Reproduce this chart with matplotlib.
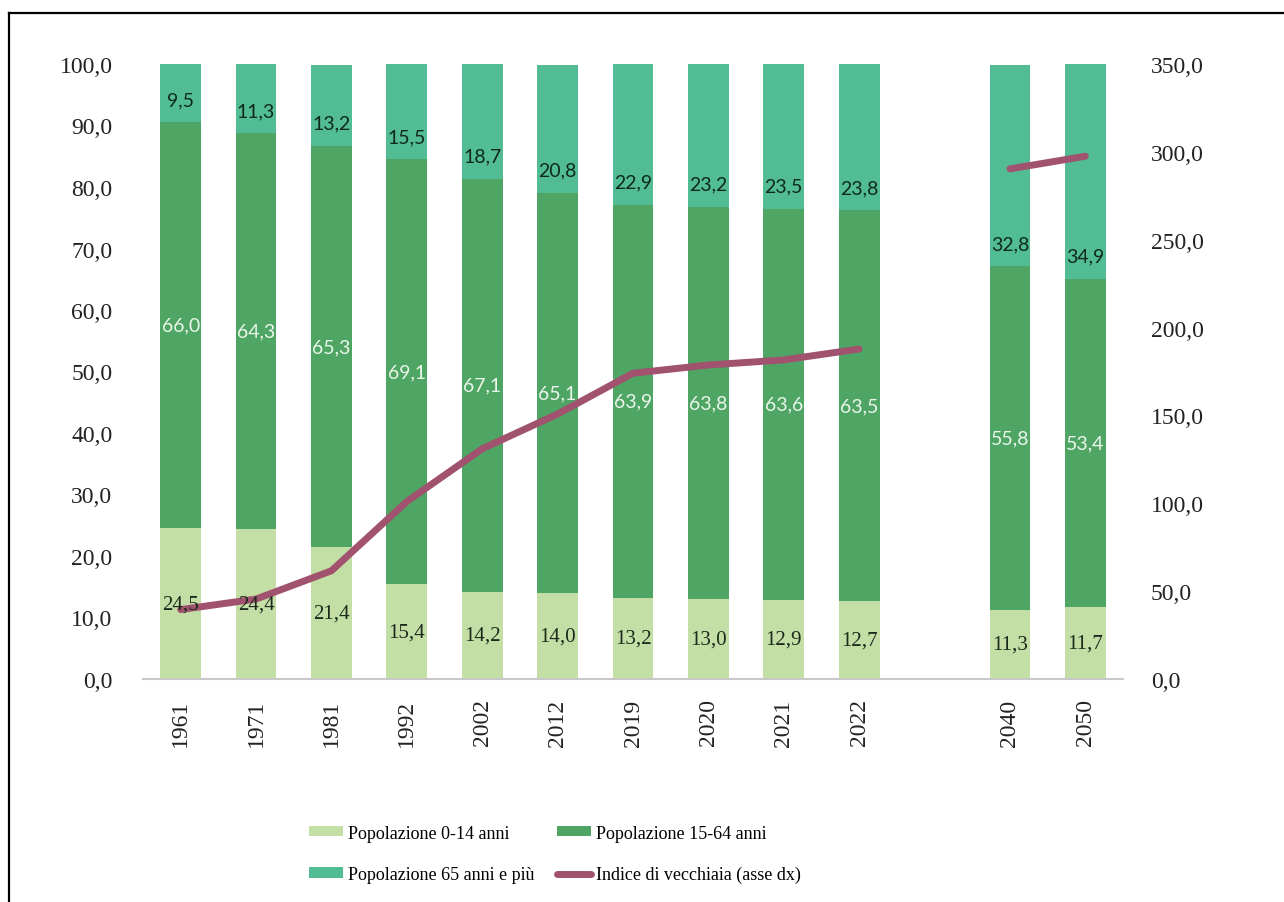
import numpy as np
import matplotlib
matplotlib.use("Agg")
import matplotlib.pyplot as plt
from matplotlib.lines import Line2D

# ---- data ----
categories = ["1961", "1971", "1981", "1992", "2002", "2012", "2019", "2020", "2021", "2022", "", "2040", "2050"]
pop_0_14 = [24.5, 24.4, 21.4, 15.4, 14.2, 14.0, 13.2, 13.0, 12.9, 12.7, np.nan, 11.3, 11.7]
pop_15_64 = [66.0, 64.3, 65.3, 69.1, 67.1, 65.1, 63.9, 63.8, 63.6, 63.5, np.nan, 55.8, 53.4]
pop_65 = [9.5, 11.3, 13.2, 15.5, 18.7, 20.8, 22.9, 23.2, 23.5, 23.8, np.nan, 32.8, 34.9]
indice_vecchiaia = [39.5, 45.5, 61.6, 101.0, 131.0, 150.8, 174.0, 178.7, 181.6, 187.8, np.nan, 290.3, 297.5]
left_ticks = [0, 10, 20, 30, 40, 50, 60, 70, 80, 90, 100]
right_ticks = [0, 50, 100, 150, 200, 250, 300, 350]

c_young = "#C3DFA6"
c_work = "#4FA564"
c_old = "#52BD95"
c_line = "#A0526F"

SERIF = "Liberation Serif"
SANS = "Lato"

def fmt(v):
    return f"{v:.1f}".replace(".", ",")

fig = plt.figure(figsize=(12.84, 9.03), dpi=100)
ax = fig.add_axes([143/1284, 1-680/903, (1123-143)/1284, (680-65)/903])
ax2 = ax.twinx()

x = np.arange(len(categories))
a = np.array(pop_0_14, dtype=float)
b = np.array(pop_15_64, dtype=float)
c = np.array(pop_65, dtype=float)
w = 0.54

h_young = ax.bar(x, a, w, color=c_young, label="Popolazione 0-14 anni", zorder=2)
h_work = ax.bar(x, b, w, bottom=a, color=c_work, label="Popolazione 15-64 anni", zorder=2)
h_old = ax.bar(x, c, w, bottom=a + b, color=c_old, label="Popolazione 65 anni e più", zorder=2)

ax.set_xlim(-0.5, len(categories) - 0.5)
ax.set_ylim(0, 100)
ax2.set_ylim(0, 350)

# labels
for i in range(len(categories)):
    if np.isnan(a[i]):
        continue
    ax.text(x[i], a[i] / 2, fmt(a[i]), ha="center", va="center", fontsize=15,
            family=SERIF, color="#1b2a1b", zorder=6)
    ax.text(x[i], a[i] + b[i] / 2, fmt(b[i]), ha="center", va="center", fontsize=14,
            family=SANS, color="#EAF6EA", zorder=6)
    ax.text(x[i], a[i] + b[i] + 3.7, fmt(c[i]), ha="center", va="center", fontsize=14,
            family=SANS, color="#0F2A1C", zorder=6)

ax.set_zorder(ax2.get_zorder() + 1)
ax.patch.set_visible(False)
h_line, = ax.plot(x, indice_vecchiaia, color=c_line, lw=5, solid_capstyle="round",
                  transform=ax2.transData, zorder=4, label="Indice di vecchiaia (asse dx)")

ax.set_xticks(x)
ax.set_xticklabels(categories, rotation=90, family=SERIF, fontsize=17)
ax.set_yticks(left_ticks)
ax.set_yticklabels([fmt(v) for v in left_ticks], family=SERIF, fontsize=17)
ax2.set_yticks(right_ticks)
ax2.set_yticklabels([fmt(v) for v in right_ticks], family=SERIF, fontsize=17)

ax.tick_params(axis="x", length=0, pad=14, colors="#222222")
ax.tick_params(axis="y", length=0, pad=22, colors="#222222")
ax2.tick_params(axis="y", length=0, pad=20, colors="#222222")

for axx in (ax, ax2):
    for s in axx.spines.values():
        s.set_visible(False)
ax.spines["bottom"].set_visible(True)
ax.spines["bottom"].set_color("#C8C8C8")
ax.spines["bottom"].set_linewidth(1.5)

hs = [h_young, h_old, h_work, h_line]
ls = [h.get_label() for h in hs]
leg = fig.legend(hs, ls, loc="center", bbox_to_anchor=(555/1284, 48/903), ncol=2,
                 frameon=False, prop={"family": SERIF, "size": 13},
                 handlelength=1.9, handleheight=0.5, handletextpad=0.3,
                 columnspacing=1.2, labelspacing=1.35)

# outer frame (left and top)
fig.add_artist(Line2D([8.5/1284, 8.5/1284], [0, 1-13.5/903], transform=fig.transFigure,
                      color="black", lw=1.6))
fig.add_artist(Line2D([8.5/1284, 1], [1-13.5/903, 1-13.5/903], transform=fig.transFigure,
                      color="black", lw=1.6))

fig.savefig("out.png", dpi=100)
